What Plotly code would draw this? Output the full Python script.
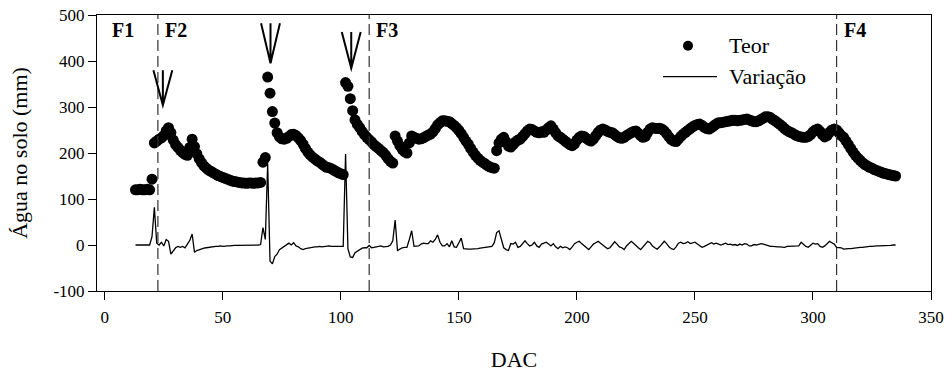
import plotly.graph_objects as go

# Daily soil water content (Teor) and its daily change (Variação), days after sowing (DAC)
teor_dac = list(range(13, 336))
teor = [
    120, 120, 121, 120, 120, 121, 120, 143, 222, 226,
    230, 233, 238, 248, 255, 244, 228, 218, 212, 206,
    201, 197, 195, 212, 230, 214, 198, 187, 179, 172,
    167, 163, 160, 157, 154, 151, 149, 147, 145, 143,
    141, 139, 138, 137, 136, 135, 135, 134, 135, 135,
    134, 135, 135, 136, 180, 190, 365, 330, 290, 265,
    244, 235, 231, 230, 232, 236, 240, 241, 238, 233,
    227, 219, 210, 202, 196, 191, 187, 183, 180, 176,
    172, 169, 168, 166, 163, 160, 157, 155, 153, 353,
    345, 318, 292, 272, 262, 255, 247, 240, 234, 229,
    224, 218, 214, 210, 205, 201, 195, 188, 182, 178,
    237, 226, 216, 208, 203, 200, 222, 237, 234, 232,
    230, 231, 233, 236, 239, 241, 246, 253, 261, 266,
    270, 270, 269, 268, 264, 260, 255, 249, 242, 234,
    226, 219, 210, 202, 195, 189, 184, 180, 177, 173,
    170, 168, 167, 205, 222, 230, 234, 224, 215, 213,
    218, 224, 228, 230, 236, 242, 248, 252, 251, 248,
    245, 244, 246, 245, 250, 255, 259, 252, 244, 237,
    234, 230, 226, 222, 218, 216, 220, 228, 234, 237,
    236, 232, 228, 226, 230, 238, 245, 250, 252, 250,
    247, 245, 244, 240, 236, 233, 232, 234, 238, 241,
    244, 247, 248, 243, 238, 234, 236, 245, 252, 255,
    254, 253, 254, 252, 248, 242, 235, 229, 226, 225,
    230, 236, 241, 245, 249, 253, 257, 260, 262, 263,
    260, 256, 253, 252, 255, 259, 263, 266, 266, 267,
    268, 269, 270, 271, 271, 270, 271, 272, 273, 274,
    272, 270, 268, 268, 270, 273, 276, 279, 279, 277,
    273, 270, 266, 262, 258, 253, 249, 246, 244, 241,
    238, 236, 235, 234, 234, 236, 240, 246, 250, 252,
    247, 240, 235, 238, 245, 250, 252, 250, 244, 238,
    234, 226, 218, 210, 202, 195, 189, 184, 179, 175,
    172, 169, 167, 164, 162, 160, 158, 156, 155, 153,
    152, 151, 150,
]

variacao_dac = list(range(13, 336))
variacao = [
    0, 0, 0, 0, 0, 0, 0, 18, 82, 4,
    0, 6, -2, 12, 8, -20, -14, -6, -3, -5,
    -3, -6, 2, 10, 24, -16, -12, -10, -8, -7,
    -6, -5, -4, -4, -3, -3, -2, -3, -2, -2,
    -2, -1, -1, -1, -1, 0, -1, 0, -1, 0,
    0, -1, 0, 1, 38, 12, 176, -35, -41, -25,
    -20, -10, -6, -3, 2, 4, 0, 5, -2, -4,
    -8, -10, -8, -7, -5, -5, -4, -4, -3, -4,
    -3, -2, -2, -3, -3, -3, -3, -2, -3, 198,
    -8, -26, -27, -17, -13, -10, -7, -6, -6, -1,
    -6, -5, -4, -4, -2, -4, -3, -3, 0, 9,
    54, -12, -9, -6, -5, -5, 12, 31, -3, -3,
    -2, 2, 4, 3, 3, 9, 6, 12, 22, 6,
    -2, -2, 3, -4, 9, -4, -5, 5, 15, -8,
    -9, -9, -9, -9, -8, -8, -7, -6, -5, -5,
    -4, -3, 5, 27, 31, 14, -6, -10, -12, 3,
    2, 6, -5, -3, 4, 9, 3, -2, 0, 6,
    -2, -5, 2, 4, 6, 2, -2, 3, -4, -8,
    -3, -6, -4, -6, -10, -4, 3, 6, 8, 3,
    -2, -6, -10, -4, 2, 5, 8, 4, 0, -4,
    -8, -6, 0, 7, 2, -4, -6, -10, -2, 4,
    8, 4, -2, -6, -10, -4, 2, 8, 5, -2,
    -6, -9, -4, 2, 8, 3, -4, -8, -10, -4,
    4, 6, 3, 4, 7, 3, 5, 6, 2, -2,
    -5, -3, 0, 3, 5, 2, 4, 2, 0, 2,
    4, 1, 2, 0, 1, -1, 2, 0, 3, 2,
    -2, -2, 1, 0, 2, 3, 2, 0, -2, -3,
    -3, -4, -4, -4, -5, -5, -3, -3, -2, -3,
    -3, -2, 6, 1, -3, -5, 0, 4, 2, 3,
    -3, -5, -2, 4, 8, 5, 2, -5, -6, -6,
    -9, -8, -8, -8, -7, -6, -6, -5, -5, -4,
    -3, -3, -3, -2, -2, -2, -2, -2, -1, -1,
    -1, 0, 0,
]

x_ticks = [0, 50, 100, 150, 200, 250, 300, 350]
y_ticks = [-100, 0, 100, 200, 300, 400, 500]
y_tick_labels = ["-100", "0", "100", "200", "300", "400", "500"]

# Phase boundaries and labels
phase_bounds = [22.5, 112, 310]
phase_starts = [0, 22.5, 112, 310]
phase_labels = ["F1", "F2", "F3", "F4"]

# Irrigation/rain event arrows: day, tip value, tail value
arrow_dac = [24.6, 70.2, 104.4]
arrow_tip = [304, 395, 384]
arrow_tail = [380, 482, 463]
arrow_half_width = 4.0

FONT = "Times New Roman, Liberation Serif, serif"

fig = go.Figure()

fig.add_trace(go.Scatter(
    x=variacao_dac, y=variacao, mode="lines",
    line=dict(color="black", width=1.3),
    name="Variação", showlegend=False,
))
fig.add_trace(go.Scatter(
    x=teor_dac, y=teor, mode="markers",
    marker=dict(color="black", size=11, line=dict(width=0)),
    name="Teor", showlegend=False,
))

shapes = []
for xb in phase_bounds:
    shapes.append(dict(
        type="line", xref="x", yref="paper", x0=xb, x1=xb, y0=0, y1=1,
        line=dict(color="#333333", width=1.2, dash="11px,5px"),
    ))

for xa, tip, tail in zip(arrow_dac, arrow_tip, arrow_tail):
    path = (f"M{xa},{tail} L{xa},{tip} "
            f"M{xa - arrow_half_width},{tail} L{xa},{tip} L{xa + arrow_half_width},{tail}")
    shapes.append(dict(
        type="path", xref="x", yref="y", path=path,
        line=dict(color="black", width=2),
    ))

# Legend: marker and line samples
shapes.append(dict(
    type="circle", xref="paper", yref="paper",
    xsizemode="pixel", ysizemode="pixel",
    xanchor=(688 - 97) / 834, yanchor=(291 - 45.7) / 276,
    x0=-5, x1=5, y0=-5, y1=5,
    fillcolor="black", line=dict(color="black", width=0),
))
shapes.append(dict(
    type="line", xref="paper", yref="paper",
    x0=(663 - 97) / 834, x1=(717 - 97) / 834,
    y0=(291 - 76.7) / 276, y1=(291 - 76.7) / 276,
    line=dict(color="black", width=1.3),
))

annotations = []
for xs, lab in zip(phase_starts, phase_labels):
    annotations.append(dict(
        x=xs, y=467, xref="x", yref="y", text=f"<b>{lab}</b>",
        showarrow=False, xanchor="left", yanchor="middle", xshift=5,
        font=dict(family=FONT, size=20, color="black"),
    ))

for txt, py in [("Teor", 45.7), ("Variação", 76.7)]:
    annotations.append(dict(
        x=(727 - 97) / 834, y=(291 - py) / 276, xref="paper", yref="paper",
        text=txt, showarrow=False, xanchor="left", yanchor="middle",
        font=dict(family=FONT, size=22, color="black"),
    ))

fig.update_layout(
    width=946, height=372,
    margin=dict(l=97, r=15, t=15, b=81, autoexpand=False),
    paper_bgcolor="white", plot_bgcolor="white",
    font=dict(family=FONT, color="black"),
    showlegend=False,
    shapes=shapes,
    annotations=annotations,
    xaxis=dict(
        range=[-3.3, 350], tickvals=x_ticks, ticks="outside", ticklen=8,
        tickwidth=1, tickcolor="black", showline=True, linecolor="black",
        linewidth=1, mirror=True, showgrid=False, zeroline=False,
        tickfont=dict(family=FONT, size=17, color="black"),
        ticklabelstandoff=3,
        title=dict(text="DAC", font=dict(family=FONT, size=22, color="black"),
                   standoff=25),
        automargin=False,
    ),
    yaxis=dict(
        range=[-100, 500], tickvals=y_ticks, ticktext=y_tick_labels,
        ticks="outside", ticklen=8, tickwidth=1, tickcolor="black",
        showline=True, linecolor="black", linewidth=1, mirror=True,
        showgrid=False, zeroline=False,
        tickfont=dict(family=FONT, size=17, color="black"),
        title=dict(text="Água no solo (mm)",
                   font=dict(family=FONT, size=22, color="black"), standoff=19),
        automargin=False,
    ),
)

fig.write_html("out.html")
